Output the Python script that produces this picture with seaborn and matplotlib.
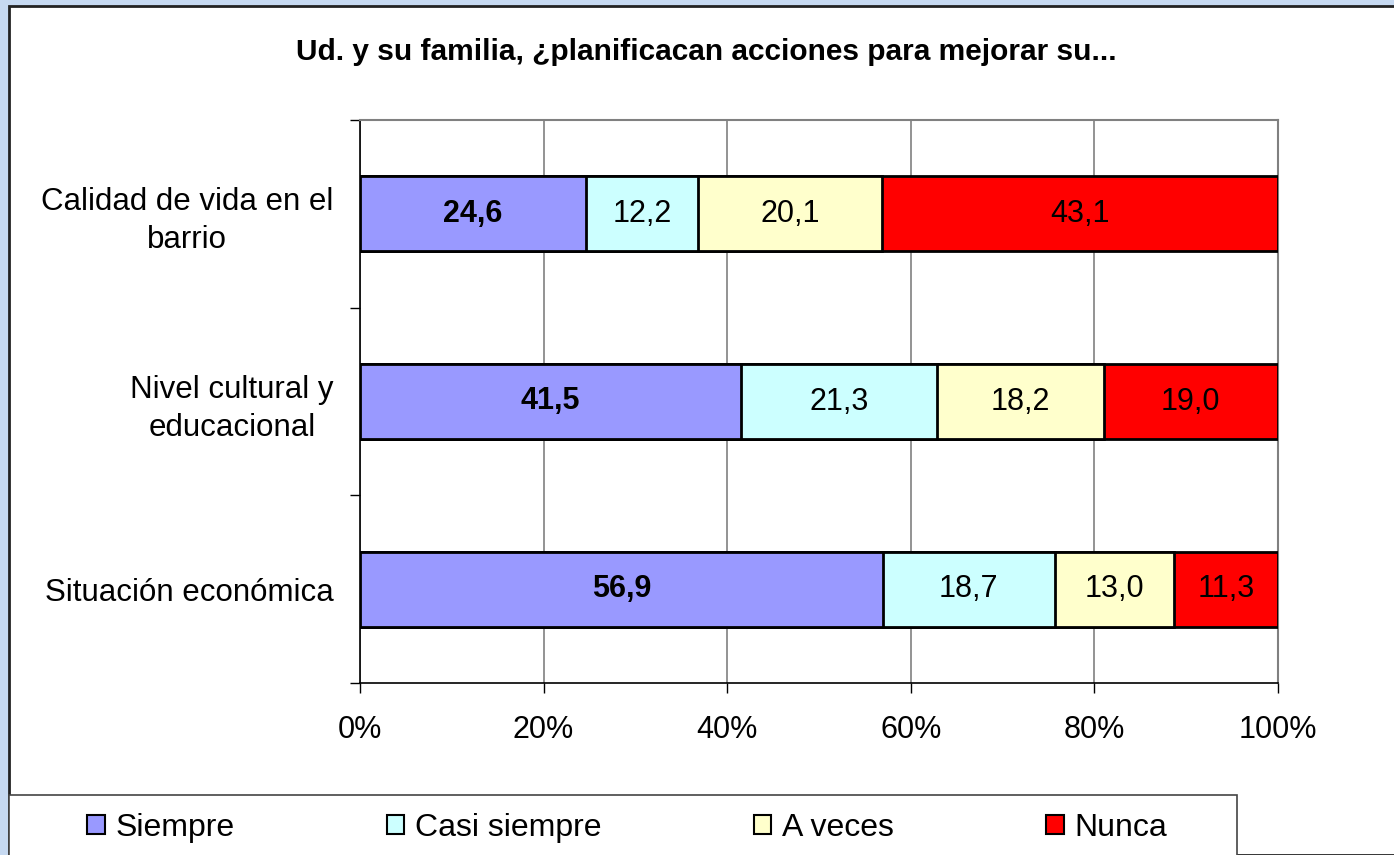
import numpy as np
import pandas as pd
import matplotlib
matplotlib.use("Agg")
import matplotlib.pyplot as plt
from matplotlib.patches import Rectangle, Patch
import seaborn as sns

categorias = ["Calidad de vida en el\nbarrio", "Nivel cultural y\neducacional", "Situación económica"]
respuestas = ["Siempre", "Casi siempre", "A veces", "Nunca"]
siempre = [24.6, 41.5, 56.9]
casi_siempre = [12.2, 21.3, 18.7]
a_veces = [20.1, 18.2, 13.0]
nunca = [43.1, 19.0, 11.3]
colores = ["#9999FF", "#CCFFFF", "#FFFFCC", "#FF0000"]
ticks_x = [0, 20, 40, 60, 80, 100]

sns.set_style("white")
plt.rcParams["font.family"] = ["Liberation Sans", "DejaVu Sans"]
plt.rcParams["text.color"] = "black"
plt.rcParams["xtick.color"] = "black"
plt.rcParams["ytick.color"] = "black"
plt.rcParams["axes.labelcolor"] = "black"

df = pd.DataFrame({"cat": categorias, "Siempre": siempre, "Casi siempre": casi_siempre,
                   "A veces": a_veces, "Nunca": nunca})
tot = df[respuestas].sum(axis=1)
pct = df[respuestas].div(tot, axis=0) * 100
cum = pct.cumsum(axis=1)

fig = plt.figure(figsize=(13.94, 8.55), dpi=100)
fig.patch.set_facecolor("#C6D9F1")
W, H = 1394, 855
fig.patches.append(Rectangle((9 / W, 0), 1, 1 - 6 / H, transform=fig.transFigure,
                             facecolor="white", edgecolor="#222222", linewidth=2, zorder=-2))

ax = fig.add_axes([360 / W, 1 - 683 / H, 918 / W, 563 / H])
ax.set_zorder(2)

# stacked bars: draw cumulative totals from the longest to the shortest
for i in range(len(respuestas) - 1, -1, -1):
    d = pd.DataFrame({"cat": categorias, "v": cum.iloc[:, i].values})
    sns.barplot(data=d, x="v", y="cat", orient="h", color=colores[i], saturation=1,
                edgecolor="black", linewidth=2, width=0.4, ax=ax, zorder=3)

for r in range(len(categorias)):
    for i, resp in enumerate(respuestas):
        centro = cum.iloc[r, i] - pct.iloc[r, i] / 2
        ax.text(centro, r, f"{df.loc[r, resp]:.1f}".replace(".", ","), ha="center", va="center",
                fontsize=22, fontweight="bold" if i == 0 else "normal", zorder=5)

ax.set_xlim(0, 100)
ax.set_ylim(2.5, -0.5)
ax.set_xticks(ticks_x)
ax.set_xticklabels([f"{t}%" for t in ticks_x], fontsize=22)
ax.set_yticks([-0.5, 0.5, 1.5, 2.5])
ax.set_yticklabels([])
ax.set_yticks([0, 1, 2], minor=True)
ax.set_yticklabels(categorias, minor=True, fontsize=22.5)
for t in ax.get_yticklabels(minor=True):
    t.set_multialignment("center")
    t.set_linespacing(1.35)
ax.tick_params(axis="y", which="major", length=7.2, width=1, color="black", direction="out", left=True)
ax.tick_params(axis="y", which="minor", length=0, pad=19)
ax.tick_params(axis="x", length=7.2, width=1, color="black", direction="out", bottom=True, pad=16)
ax.set_xlabel("")
ax.set_ylabel("")
ax.grid(axis="x", color="#808080", linewidth=1.2, zorder=0)
ax.set_axisbelow(True)
for s in ["top", "right"]:
    ax.spines[s].set_color("#808080")
    ax.spines[s].set_linewidth(1.5)
for s in ["left", "bottom"]:
    ax.spines[s].set_color("black")
    ax.spines[s].set_linewidth(1.2)

fig.text(706 / W, 1 - 52 / H, "Ud. y su familia, ¿planificacan acciones para mejorar su...",
         ha="center", va="center", fontsize=21.5, fontweight="bold")

# legend box
fig.patches.append(Rectangle((9 / W, -0.1), (1237 - 9) / W, 0.1 + (855 - 795) / H,
                             transform=fig.transFigure, facecolor="white",
                             edgecolor="#444444", linewidth=1.2, zorder=-1))
handles = [Patch(facecolor=c, edgecolor="black", linewidth=1.5) for c in colores]
fig.legend(handles, respuestas, loc="center left", bbox_to_anchor=(87 / W, 1 - 828 / H),
           ncol=4, frameon=False, fontsize=23, handlelength=0.55, handleheight=0.55,
           handletextpad=0.35, columnspacing=4.75, borderaxespad=0, borderpad=0)

fig.savefig("out.png", dpi=100, facecolor=fig.get_facecolor())
